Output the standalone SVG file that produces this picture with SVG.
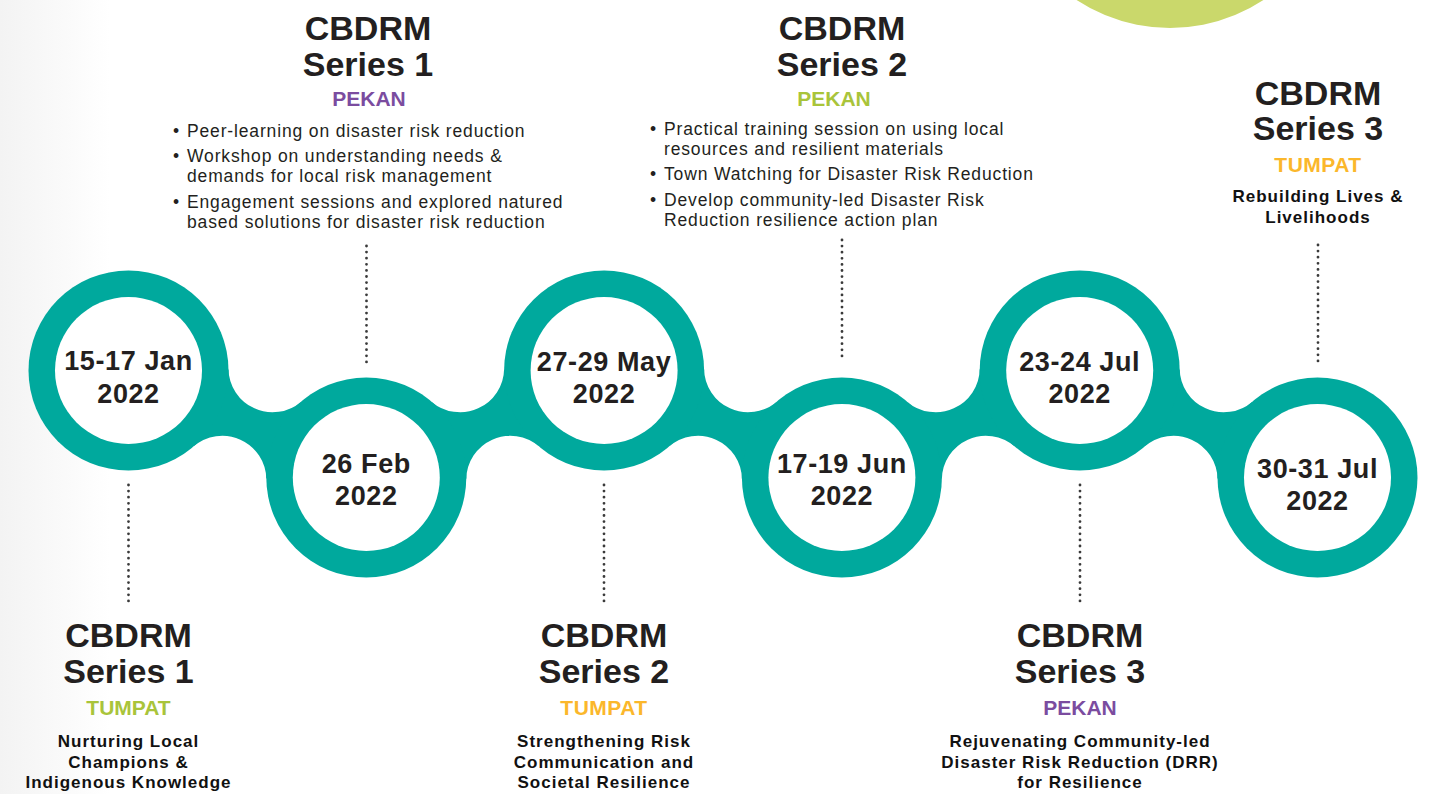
<svg xmlns="http://www.w3.org/2000/svg" xmlns:xlink="http://www.w3.org/1999/xlink" width="1430" height="794" viewBox="0 0 1430 794">
<style>
.title{font-family:"Liberation Sans",Arial,sans-serif;font-weight:700;font-size:34px;fill:#231f20;text-anchor:middle}
.loc{font-family:"Liberation Sans",Arial,sans-serif;font-weight:700;font-size:21px;text-anchor:middle}
.purple{fill:#7b4c9f}
.lime{fill:#a9c43a}
.yellow{fill:#fbb72b;letter-spacing:0.5px}
.sub{font-family:"Liberation Sans",Arial,sans-serif;font-weight:700;font-size:17px;letter-spacing:1px;fill:#111;text-anchor:middle}
.bul{font-family:"Liberation Sans",Arial,sans-serif;font-size:17.5px;letter-spacing:0.85px;fill:#231f20}
.date{font-family:"Liberation Sans",Arial,sans-serif;font-weight:700;font-size:27px;letter-spacing:0.6px;fill:#231f20;text-anchor:middle}
.ring{fill:#00a99d}
.hole{fill:#ffffff}
.dots{stroke:#3a3a3a;stroke-width:2.8;stroke-linecap:round;stroke-dasharray:0 6.1;fill:none}
</style>
<defs>
<linearGradient id="edge" x1="0" y1="0" x2="1" y2="0">
<stop offset="0" stop-color="#f3f3f3"/>
<stop offset="1" stop-color="#ffffff"/>
</linearGradient>
<path id="bridge" d="M 99.99 -1.56 A 44 44 0 0 0 172.65 31.13 L 137.81 108.56 A 44 44 0 0 0 65.15 75.87 Z"/>
</defs>
<rect width="1430" height="794" fill="#ffffff"/>
<rect width="110" height="794" fill="url(#edge)"/>
<circle cx="1170" cy="-142" r="170" fill="#cad86b"/>

<g id="connectors">
<g class="ring">
<use xlink:href="#bridge" transform="translate(128.5,370.5)"/>
<use xlink:href="#bridge" transform="translate(604.1,370.5) scale(-1,1)"/>
<use xlink:href="#bridge" transform="translate(604.1,370.5)"/>
<use xlink:href="#bridge" transform="translate(1079.7,370.5) scale(-1,1)"/>
<use xlink:href="#bridge" transform="translate(1079.7,370.5)"/>
</g>
<g class="dots">
<line x1="366.5" y1="246" x2="366.5" y2="362"/>
<line x1="842" y1="240" x2="842" y2="362"/>
<line x1="1318" y1="245" x2="1318" y2="362"/>
<line x1="128.5" y1="485" x2="128.5" y2="607"/>
<line x1="604" y1="485" x2="604" y2="607"/>
<line x1="1080" y1="485" x2="1080" y2="607"/>
</g>
</g>

<g id="node1">
<circle class="ring" cx="128.5" cy="370.5" r="100"/>
<circle class="hole" cx="128.5" cy="370.5" r="73.5"/>
<text class="date" x="128.5" y="370">15-17 Jan</text>
<text class="date" x="128.5" y="403">2022</text>
</g>
<g id="node2">
<circle class="ring" cx="366.3" cy="477.5" r="100"/>
<circle class="hole" cx="366.3" cy="477.5" r="73.5"/>
<text class="date" x="366.3" y="473">26 Feb</text>
<text class="date" x="366.3" y="505">2022</text>
</g>
<g id="node3">
<circle class="ring" cx="604.1" cy="370.5" r="100"/>
<circle class="hole" cx="604.1" cy="370.5" r="73.5"/>
<text class="date" x="604.1" y="371">27-29 May</text>
<text class="date" x="604.1" y="403">2022</text>
</g>
<g id="node4">
<circle class="ring" cx="841.9" cy="477.5" r="100"/>
<circle class="hole" cx="841.9" cy="477.5" r="73.5"/>
<text class="date" x="841.9" y="473">17-19 Jun</text>
<text class="date" x="841.9" y="505">2022</text>
</g>
<g id="node5">
<circle class="ring" cx="1079.7" cy="370.5" r="100"/>
<circle class="hole" cx="1079.7" cy="370.5" r="73.5"/>
<text class="date" x="1079.7" y="371">23-24 Jul</text>
<text class="date" x="1079.7" y="403">2022</text>
</g>
<g id="node6">
<circle class="ring" cx="1317.5" cy="477.5" r="100"/>
<circle class="hole" cx="1317.5" cy="477.5" r="73.5"/>
<text class="date" x="1317.5" y="478">30-31 Jul</text>
<text class="date" x="1317.5" y="510">2022</text>
</g>

<g id="label-s1-pekan">
<text class="title" x="368" y="40">CBDRM</text>
<text class="title" x="368" y="76">Series 1</text>
<text class="loc purple" x="369" y="106">PEKAN</text>
<g class="bul">
<text x="173" y="137">•</text><text x="187" y="137">Peer-learning on disaster risk reduction</text>
<text x="173" y="162">•</text><text x="187" y="162">Workshop on understanding needs &amp;</text>
<text x="187" y="182">demands for local risk management</text>
<text x="173" y="208">•</text><text x="187" y="208">Engagement sessions and explored natured</text>
<text x="187" y="228">based solutions for disaster risk reduction</text>
</g>
</g>

<g id="label-s2-pekan">
<text class="title" x="842" y="40">CBDRM</text>
<text class="title" x="842" y="76">Series 2</text>
<text class="loc lime" x="834" y="106">PEKAN</text>
<g class="bul">
<text x="650" y="135">•</text><text x="664" y="135">Practical training session on using local</text>
<text x="664" y="155">resources and resilient materials</text>
<text x="650" y="180">•</text><text x="664" y="180">Town Watching for Disaster Risk Reduction</text>
<text x="650" y="206">•</text><text x="664" y="206">Develop community-led Disaster Risk</text>
<text x="664" y="226">Reduction resilience action plan</text>
</g>
</g>

<g id="label-s3-tumpat">
<text class="title" x="1318" y="105">CBDRM</text>
<text class="title" x="1318" y="140">Series 3</text>
<text class="loc yellow" x="1318" y="172">TUMPAT</text>
<text class="sub" x="1318" y="202">Rebuilding Lives &amp;</text>
<text class="sub" x="1318" y="223">Livelihoods</text>
</g>

<g id="label-s1-tumpat">
<text class="title" x="128.5" y="647">CBDRM</text>
<text class="title" x="128.5" y="683">Series 1</text>
<text class="loc lime" x="128.5" y="715">TUMPAT</text>
<text class="sub" x="128.5" y="747">Nurturing Local</text>
<text class="sub" x="128.5" y="768">Champions &amp;</text>
<text class="sub" x="128.5" y="788">Indigenous Knowledge</text>
</g>

<g id="label-s2-tumpat">
<text class="title" x="604" y="647">CBDRM</text>
<text class="title" x="604" y="683">Series 2</text>
<text class="loc yellow" x="604" y="715">TUMPAT</text>
<text class="sub" x="604" y="747">Strengthening Risk</text>
<text class="sub" x="604" y="768">Communication and</text>
<text class="sub" x="604" y="788">Societal Resilience</text>
</g>

<g id="label-s3-pekan">
<text class="title" x="1080" y="647">CBDRM</text>
<text class="title" x="1080" y="683">Series 3</text>
<text class="loc purple" x="1080" y="715">PEKAN</text>
<text class="sub" x="1080" y="747">Rejuvenating Community-led</text>
<text class="sub" x="1080" y="768">Disaster Risk Reduction (DRR)</text>
<text class="sub" x="1080" y="788">for Resilience</text>
</g>
</svg>
